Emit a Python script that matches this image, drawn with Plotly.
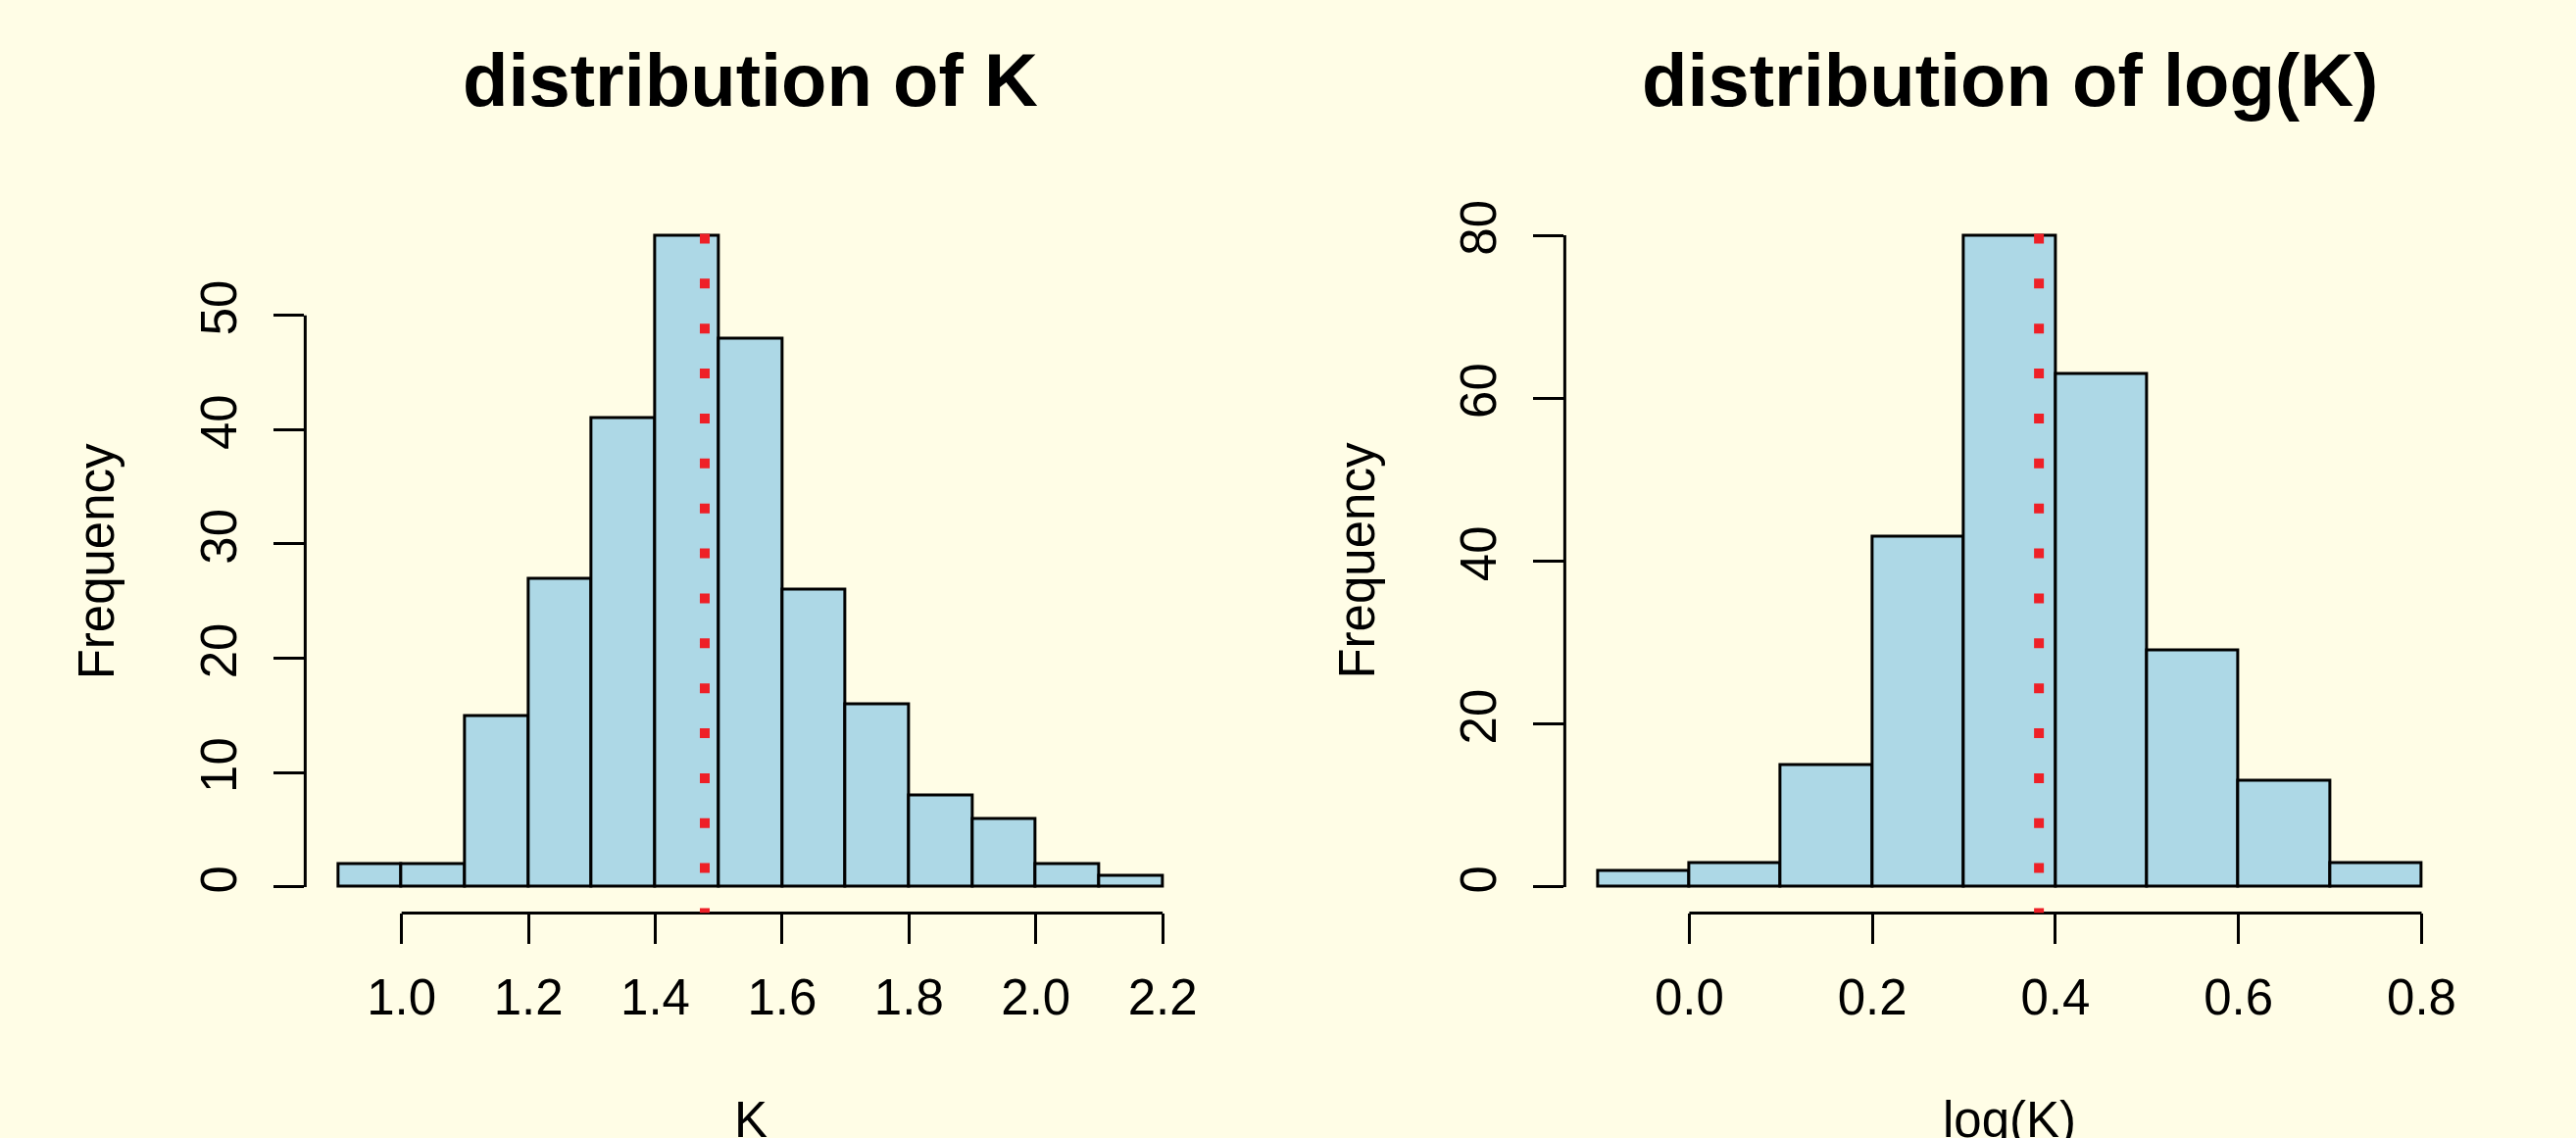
import plotly.graph_objects as go

# ---------------- data ----------------
k_breaks = [0.9, 1.0, 1.1, 1.2, 1.3, 1.4, 1.5, 1.6, 1.7, 1.8, 1.9, 2.0, 2.1, 2.2]
k_counts = [2, 2, 15, 27, 41, 57, 48, 26, 16, 8, 6, 2, 1]
k_xticks = [1.0, 1.2, 1.4, 1.6, 1.8, 2.0, 2.2]
k_xticklabels = ["1.0", "1.2", "1.4", "1.6", "1.8", "2.0", "2.2"]
k_yticks = [0, 10, 20, 30, 40, 50]
k_yticklabels = ["0", "10", "20", "30", "40", "50"]
k_center = 1.478

logk_breaks = [-0.1, 0.0, 0.1, 0.2, 0.3, 0.4, 0.5, 0.6, 0.7, 0.8]
logk_counts = [2, 3, 15, 43, 80, 63, 29, 13, 3]
logk_xticks = [0.0, 0.2, 0.4, 0.6, 0.8]
logk_xticklabels = ["0.0", "0.2", "0.4", "0.6", "0.8"]
logk_yticks = [0, 20, 40, 60, 80]
logk_yticklabels = ["0", "20", "40", "60", "80"]
logk_center = 0.382

titles = ["distribution of K", "distribution of log(K)"]
xlabels = ["K", "log(K)"]
ylabel = "Frequency"

# ---------------- style ----------------
W, H = 2628, 1161
BG = "#FFFDE6"
BAR = "#ADD8E6"
RED = "#EE2027"
FONT = "Liberation Sans"
TICK_FS = 51
TITLE_FS = 76
LW = 3

x_domains = [[311.6 / W, 1220.7 / W], [1597.6 / W, 2506.0 / W]]
y_domain = [1 - 929.7 / H, 1 - 206.0 / H]

fig = go.Figure()

panels = [
    (k_breaks, k_counts, k_xticks, k_xticklabels, k_yticks, k_yticklabels, k_center),
    (logk_breaks, logk_counts, logk_xticks, logk_xticklabels, logk_yticks, logk_yticklabels, logk_center),
]

shapes = []
annotations = []
for i, (br, cnt, xt, xtl, yt, ytl, cen) in enumerate(panels):
    xa = "x" if i == 0 else "x2"
    ya = "y" if i == 0 else "y2"
    mids = [(br[j] + br[j + 1]) / 2 for j in range(len(cnt))]
    widths = [br[j + 1] - br[j] for j in range(len(cnt))]
    fig.add_trace(go.Bar(
        x=mids, y=cnt, width=widths,
        marker=dict(color=BAR, line=dict(color="black", width=LW)),
        xaxis=xa, yaxis=ya, showlegend=False, hoverinfo="x+y",
    ))
    span = br[-1] - br[0]
    xr = [br[0] - 0.04 * span, br[-1] + 0.04 * span]
    ymax = max(cnt)
    yr = [-0.04 * ymax, 1.04 * ymax]
    axis_common = dict(
        showgrid=False, zeroline=False, showline=False,
        ticks="outside", ticklen=31, tickwidth=LW, tickcolor="black",
        tickfont=dict(family=FONT, size=TICK_FS, color="black"),
        fixedrange=True,
    )
    xkey = "xaxis" if i == 0 else "xaxis2"
    ykey = "yaxis" if i == 0 else "yaxis2"
    fig.update_layout(**{
        xkey: dict(domain=x_domains[i], range=xr, tickvals=xt, ticktext=xtl,
                   anchor=ya, ticklabelstandoff=10, **axis_common),
        ykey: dict(domain=y_domain, range=yr, tickvals=yt, ticktext=ytl,
                   tickangle=-90, anchor=xa, ticklabelstandoff=18, **axis_common),
    })
    # R-style axis lines spanning only the tick range
    shapes.append(dict(type="line", xref=xa, yref=ya + " domain",
                       x0=xt[0], x1=xt[-1], y0=0, y1=0,
                       line=dict(color="black", width=LW)))
    shapes.append(dict(type="line", xref=xa + " domain", yref=ya,
                       x0=0, x1=0, y0=yt[0], y1=yt[-1],
                       line=dict(color="black", width=LW)))
    # dotted red vertical line
    shapes.append(dict(type="line", xref=xa, yref=ya,
                       x0=cen, x1=cen, y0=yr[0], y1=yr[1],
                       line=dict(color=RED, width=10, dash="5px,35.87px,5px,0px")))
    # titles and axis labels
    annotations.append(dict(text=titles[i], xref=xa + " domain", yref="paper",
                            x=0.5, y=1 - 73 / H, xanchor="center", yanchor="middle",
                            showarrow=False,
                            font=dict(family=FONT, size=TITLE_FS, color="black", weight="bold")))
    annotations.append(dict(text=xlabels[i], xref=xa + " domain", yref="paper",
                            x=0.5, y=1 - 1142 / H, xanchor="center", yanchor="middle",
                            showarrow=False,
                            font=dict(family=FONT, size=TICK_FS, color="black")))
    annotations.append(dict(text=ylabel, xref=xa + " domain", yref=ya + " domain",
                            x=(99 - 311.6) / 909.1, y=0.5, xanchor="center", yanchor="middle",
                            textangle=-90, showarrow=False,
                            font=dict(family=FONT, size=TICK_FS, color="black")))

fig.update_layout(
    width=W, height=H, margin=dict(l=0, r=0, t=0, b=0),
    paper_bgcolor=BG, plot_bgcolor=BG,
    bargap=0, showlegend=False,
    shapes=shapes, annotations=annotations,
)

fig.write_html("out.html", config={"displayModeBar": False},
               post_script="document.body.style.margin='0';")
